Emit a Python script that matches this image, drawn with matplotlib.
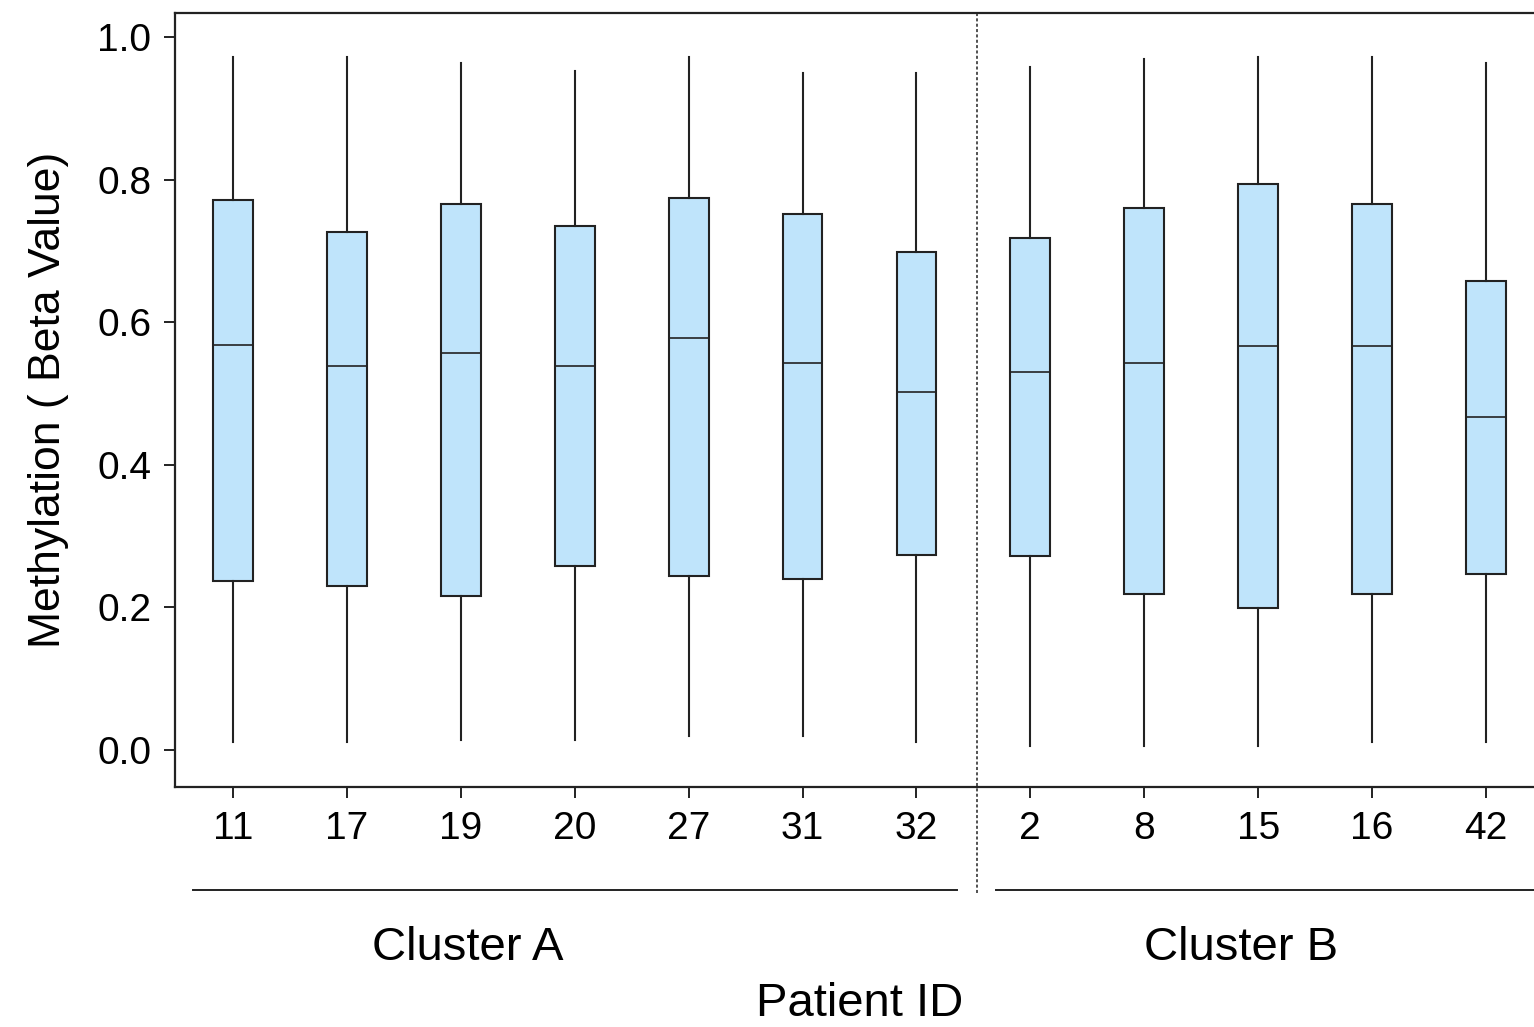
import matplotlib
matplotlib.use('Agg')
from matplotlib import pyplot as plt
from matplotlib import transforms

plt.rcParams['font.family'] = ['Liberation Sans', 'DejaVu Sans']

# Patient IDs and per-patient beta value summaries
patients = ['11', '17', '19', '20', '27', '31', '32', '2', '8', '15', '16', '42']
whisk_lo = [0.011, 0.011, 0.014, 0.014, 0.020, 0.020, 0.011, 0.006, 0.006, 0.006, 0.011, 0.011]
q1_vals = [0.237, 0.230, 0.216, 0.258, 0.244, 0.240, 0.273, 0.272, 0.219, 0.199, 0.219, 0.247]
medians = [0.568, 0.539, 0.557, 0.539, 0.578, 0.543, 0.502, 0.530, 0.543, 0.567, 0.567, 0.467]
q3_vals = [0.771, 0.727, 0.766, 0.735, 0.774, 0.752, 0.698, 0.718, 0.760, 0.794, 0.766, 0.658]
whisk_hi = [0.972, 0.972, 0.964, 0.952, 0.972, 0.950, 0.950, 0.958, 0.969, 0.972, 0.972, 0.964]
n_cluster_a = 7

stats = []
for i in range(len(patients)):
    stats.append({'label': patients[i], 'whislo': whisk_lo[i], 'q1': q1_vals[i],
                  'med': medians[i], 'q3': q3_vals[i], 'whishi': whisk_hi[i]})

fig = plt.figure(figsize=(15.34, 10.27), dpi=100)
ax = fig.add_axes([175 / 1534, 1 - 787 / 1027, 1369 / 1534, 774 / 1027])

pos = list(range(1, len(patients) + 1))
ax.bxp(stats, positions=pos, widths=0.35, patch_artist=True, showfliers=False, showcaps=False,
       boxprops={'facecolor': '#bfe4fb', 'edgecolor': '#222222', 'linewidth': 1.5},
       medianprops={'color': '#222222', 'linewidth': 1.2},
       whiskerprops={'color': '#222222', 'linewidth': 1.5})

ax.set_xlim(0.491, 12.509)
ax.set_ylim(-0.052, 1.034)
ax.set_yticks([0.0, 0.2, 0.4, 0.6, 0.8, 1.0])
ax.set_yticklabels(['0.0', '0.2', '0.4', '0.6', '0.8', '1.0'])
ax.set_xticks(pos)
ax.set_xticklabels(patients)
ax.tick_params(labelsize=28, length=8, width=1.4, color='#222222', pad=9)
for s in ax.spines.values():
    s.set_linewidth(1.6)
    s.set_color('#222222')

ax.set_ylabel('Methylation ( Beta Value)', fontsize=32, labelpad=20)

# cluster separator and group brackets under the axis
trans = transforms.blended_transform_factory(ax.transData, ax.transAxes)
sep = n_cluster_a + 0.53
ax.plot([sep, sep], [1.0, -0.137], transform=trans, clip_on=False,
        color='#222222', linestyle=(0, (2, 1.5)), linewidth=1.1)
ax.plot([0.65, 7.36], [-0.133, -0.133], transform=trans, clip_on=False, color='#222222', linewidth=1.4)
ax.plot([7.70, 12.6], [-0.133, -0.133], transform=trans, clip_on=False, color='#222222', linewidth=1.4)
ax.text(3.06, -0.208, 'Cluster A', transform=trans, ha='center', va='center', fontsize=34)
ax.text(9.85, -0.208, 'Cluster B', transform=trans, ha='center', va='center', fontsize=34)
ax.text(6.50, -0.281, 'Patient ID', transform=trans, ha='center', va='center', fontsize=34)

fig.savefig('out.png', dpi=100)
